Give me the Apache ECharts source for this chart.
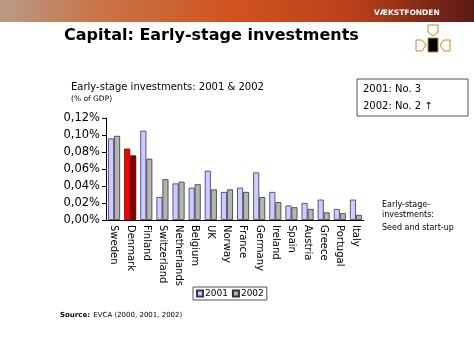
<!DOCTYPE html>
<html><head><meta charset="utf-8">
<script src="https://cdn.jsdelivr.net/npm/echarts@6/dist/echarts.min.js"></script>
<style>html,body{margin:0;padding:0;background:#fff}#c{width:474px;height:355px}</style>
</head><body><div id="c"></div>
<script>
const categories = ['Sweden','Denmark','Finland','Switzerland','Netherlands','Belgium','UK','Norway','France','Germany','Ireland','Spain','Austria','Greece','Portugal','Italy'];
const values2001 = [0.096,0.084,0.105,0.027,0.043,0.038,0.058,0.033,0.038,0.056,0.033,0.017,0.020,0.024,0.013,0.024];
const values2002 = [0.099,0.076,0.072,0.048,0.045,0.042,0.036,0.036,0.033,0.027,0.021,0.015,0.013,0.009,0.008,0.006];
const seriesNames = ['2001','2002'];
const highlight = 'Denmark';
const yTicks = {min:0, max:0.12, interval:0.02};

const F = 'DejaVu Sans, Verdana, sans-serif';
const chart = echarts.init(document.getElementById('c'), null, {renderer:'canvas'});
const d1 = values2001.map((v,i)=> categories[i]===highlight ? {value:v, itemStyle:{color:'#ff0000', borderColor:'#660000'}} : v);
const d2 = values2002.map((v,i)=> categories[i]===highlight ? {value:v, itemStyle:{color:'#880000', borderColor:'#330000'}} : v);
chart.setOption({
  animation:false,
  textStyle:{fontFamily:F},
  grid:{left:106, right:110, top:118, bottom:135},
  legend:{
    data:seriesNames, bottom:55, left:193, itemWidth:6, itemHeight:6, itemGap:4,
    icon:'rect', borderColor:'#555', borderWidth:1, padding:[2,3,2,3],
    textStyle:{fontSize:9, color:'#000', fontFamily:F, padding:[0,0,0,-3]}
  },
  xAxis:{
    type:'category', data:categories,
    axisLine:{lineStyle:{color:'#000'}},
    axisTick:{lineStyle:{color:'#000'}, length:4},
    axisLabel:{rotate:-90, color:'#000', fontSize:10, fontFamily:F, margin:5, interval:0}
  },
  yAxis:{
    type:'value', min:yTicks.min, max:yTicks.max, interval:yTicks.interval,
    axisLine:{show:true, lineStyle:{color:'#000'}},
    axisTick:{show:true, length:4, lineStyle:{color:'#000'}},
    splitLine:{show:false},
    axisLabel:{color:'#000', fontSize:11.5, fontFamily:F, margin:6,
      formatter:v=>v.toFixed(2).replace('.',',')+'%'}
  },
  series:[
    {name:'2001', type:'bar', data:d1, barWidth:6, barGap:'0%',
     itemStyle:{color:'#ccccff', borderColor:'#333366', borderWidth:0.8}},
    {name:'2002', type:'bar', data:d2, barWidth:6,
     itemStyle:{color:'#b4b4b4', borderColor:'#333333', borderWidth:0.8}}
  ],
  graphic:[
    {type:'rect', shape:{x:0,y:0,width:474,height:22}, silent:true,
     style:{fill:new echarts.graphic.LinearGradient(0,0,1,0,[
       {offset:0,color:'#b89a86'},{offset:0.2,color:'#c8764a'},{offset:0.5,color:'#d0521e'},
       {offset:0.75,color:'#b8401c'},{offset:1,color:'#5a1a14'}])}},
    {type:'text', left:374, top:9, style:{text:'VÆKSTFONDEN', fill:'#fff', font:'bold 7.5px '+F}},
    {type:'text', left:64, top:28, style:{text:'Capital: Early-stage investments', fill:'#000', font:'bold 16px '+F}},
    // logo
    {type:'polygon', shape:{points:[[428,25],[438,25],[438,32],[433,36],[428,32]]}, style:{fill:'none', stroke:'#c8862a', lineWidth:1}},
    {type:'polygon', shape:{points:[[416,40],[422,40],[426,45],[422,51],[416,51]]}, style:{fill:'none', stroke:'#c8862a', lineWidth:1}},
    {type:'rect', shape:{x:428,y:38,width:10,height:14}, style:{fill:'#000', stroke:'#c8862a', lineWidth:1}},
    {type:'polygon', shape:{points:[[444,40],[450,40],[450,51],[444,51],[440,45]]}, style:{fill:'none', stroke:'#c8862a', lineWidth:1}},
    {type:'text', left:71, top:82, style:{text:'Early-stage investments: 2001 & 2002', fill:'#000', font:'10px '+F}},
    {type:'text', left:71, top:95, style:{text:'(% of GDP)', fill:'#000', font:'7.5px '+F}},
    {type:'rect', shape:{x:357,y:79,width:111,height:37}, style:{fill:'#fff', stroke:'#555', lineWidth:1}},
    {type:'text', left:363, top:84, style:{text:'2001: No. 3', fill:'#000', font:'10px '+F}},
    {type:'text', left:363, top:101, style:{text:'2002: No. 2 ↑', fill:'#000', font:'10px '+F}},
    {type:'text', left:382, top:200, style:{text:'Early-stage-\ninvestments:', fill:'#000', font:'8px '+F, lineHeight:10}},
    {type:'text', left:382, top:224, style:{text:'Seed and start-up', fill:'#000', font:'8px '+F}},
    {type:'text', left:60, top:309, style:{rich:{b:{font:'bold 7px '+F, fill:'#000'}, n:{font:'7px '+F, fill:'#000'}}, text:'{b|Source:} {n|EVCA (2000, 2001, 2002)}'}}
  ]
});
</script></body></html>
